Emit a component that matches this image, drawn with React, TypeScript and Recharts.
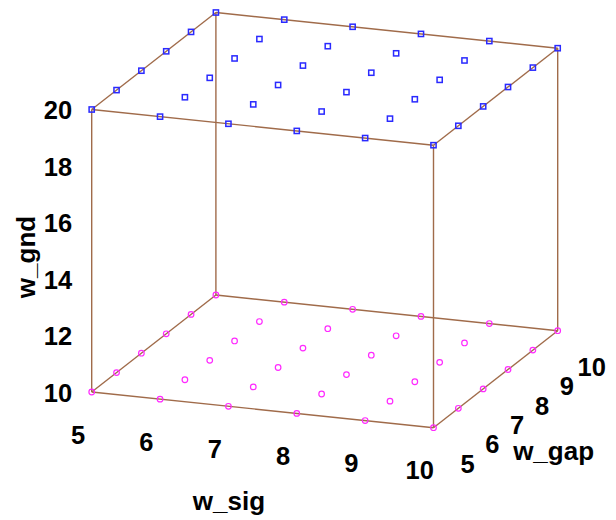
import React from 'react';
import { ScatterChart, Scatter, XAxis, YAxis, ReferenceLine } from 'recharts';

const wSig = [5, 6, 7, 8, 9, 10];
const wGap = [5, 6, 7, 8, 9, 10];
const wGndLevels = [10, 20];
const wGndTicks = [10, 12, 14, 16, 18, 20];

const BROWN = '#a06b4a';
const BLUE = '#2a2aff';
const MAGENTA = '#ff2aff';
const FONT = '"Liberation Sans", Arial, sans-serif';

// the 3D box seen from a fixed camera, in chart pixels
const project = (sig: number, gap: number, gnd: number) => ({
  x: 91.7 + (sig - 5) * 68.36 + (gap - 5) * 24.84,
  y: 392 + (sig - 5) * 7.14 - (gap - 5) * 19.4 - (gnd - 10) * 28.25,
});

const gridAt = (gnd: number) =>
  wGap.flatMap((gap) => wSig.map((sig) => project(sig, gap, gnd)));

const label = (text: string, sig: number, gap: number, gnd: number, dx: number, dy: number) => {
  const p = project(sig, gap, gnd);
  return { x: p.x + dx, y: p.y + dy, text };
};

const sigLabels = wSig.map((v) => label(String(v), v, 5, 10, -13.7, 42.5));
const gapLabels = wGap.map((v) => label(String(v), 10, v, 10, 34, 36));
const gndLabels = wGndTicks.map((v) => label(String(v), 5, 5, v, -33.7, 0.5));
const titleSig = [label('w_sig', 7.5, 5, 10, -33.7, 91)];
const titleGap = [label('w_gap', 10, 7.5, 10, 58, 72)];

const corners = [
  [5, 5],
  [10, 5],
  [10, 10],
  [5, 10],
];

const edges = [
  ...wGndLevels.flatMap((gnd) =>
    corners.map(([s, g], i) => {
      const [s2, g2] = corners[(i + 1) % 4];
      return [project(s, g, gnd), project(s2, g2, gnd)];
    })
  ),
  ...corners.map(([s, g]) => [project(s, g, 10), project(s, g, 20)]),
];

const SquareMark = ({ cx, cy }: any) => (
  <rect x={cx - 2.6} y={cy - 2.6} width={5.2} height={5.2} fill="none" stroke={BLUE} strokeWidth={1.5} />
);

const CircleMark = ({ cx, cy }: any) => (
  <circle cx={cx} cy={cy} r={2.8} fill="none" stroke={MAGENTA} strokeWidth={1.2} />
);

const TextMark = (size: number, rotate = 0) => ({ cx, cy, payload }: any) => (
  <text
    x={cx}
    y={cy}
    textAnchor="middle"
    dominantBaseline="central"
    fontFamily={FONT}
    fontWeight="bold"
    fontSize={size}
    fill="#000"
    transform={rotate ? `rotate(${rotate} ${cx} ${cy})` : undefined}
  >
    {payload.text}
  </text>
);

const App: React.FC = () => {
  return (
    <div style={{ position: 'absolute', left: 0, top: 0, width: 616, height: 520, background: '#fff' }}>
      <ScatterChart width={616} height={520} margin={{ top: 0, right: 0, bottom: 0, left: 0 }}>
        <XAxis type="number" dataKey="x" domain={[0, 616]} hide />
        <YAxis type="number" dataKey="y" domain={[0, 520]} reversed hide />
        {edges.map(([a, b], i) => (
          <ReferenceLine key={i} segment={[a, b]} stroke={BROWN} strokeWidth={1.4} ifOverflow="visible" />
        ))}
        <Scatter data={gridAt(10)} shape={CircleMark} isAnimationActive={false} />
        <Scatter data={gridAt(20)} shape={SquareMark} isAnimationActive={false} />
        <Scatter data={sigLabels} shape={TextMark(25.5)} isAnimationActive={false} />
        <Scatter data={gapLabels} shape={TextMark(25.5)} isAnimationActive={false} />
        <Scatter data={gndLabels} shape={TextMark(25.5)} isAnimationActive={false} />
        <Scatter data={titleSig} shape={TextMark(26)} isAnimationActive={false} />
        <Scatter data={titleGap} shape={TextMark(26)} isAnimationActive={false} />
        <Scatter data={[{ x: 26, y: 257, text: 'w_gnd' }]} shape={TextMark(26, -90)} isAnimationActive={false} />
      </ScatterChart>
    </div>
  );
};

export default App;
